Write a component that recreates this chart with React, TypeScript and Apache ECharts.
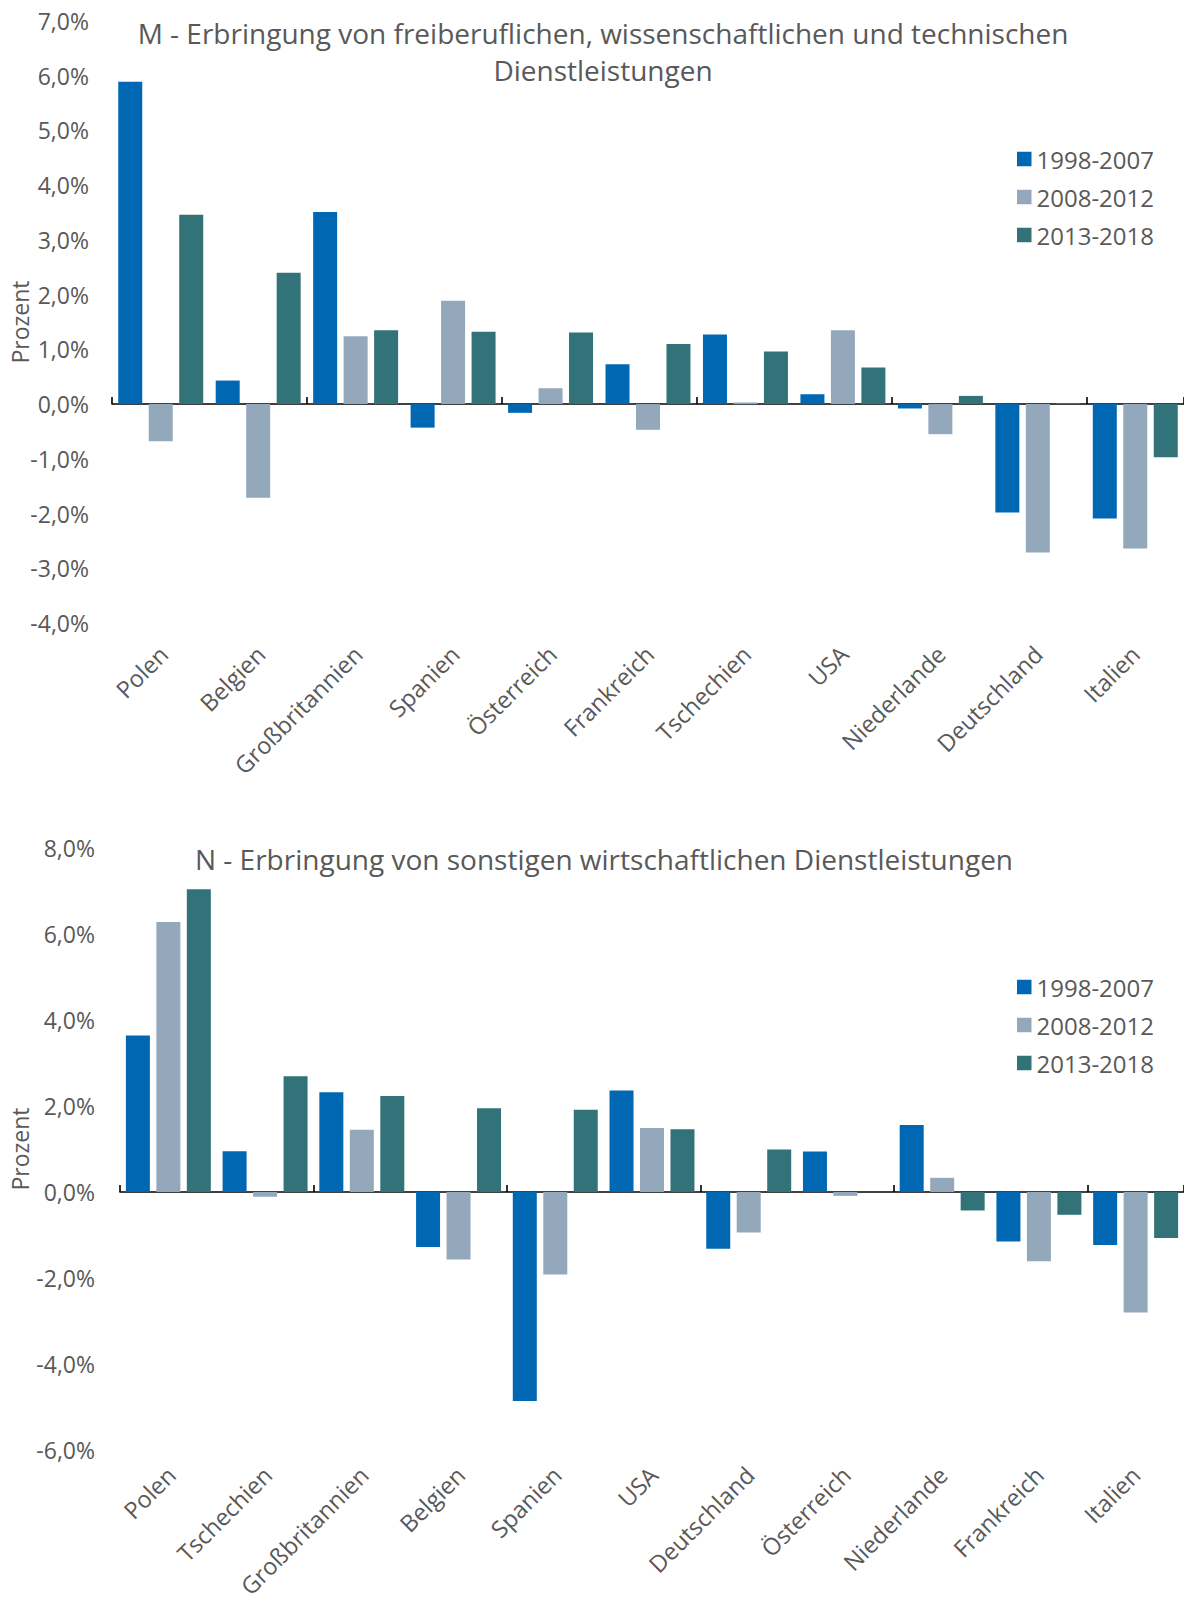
import React, { useEffect, useRef } from 'react';
import * as echarts from 'echarts';

// ---------- data ----------
const seriesNames = ['1998-2007', '2008-2012', '2013-2018'];
const seriesColors = ['#0068B3', '#94A8BC', '#32737A'];

const titleM1 = 'M - Erbringung von freiberuflichen, wissenschaftlichen und technischen';
const titleM2 = 'Dienstleistungen';
const titleN = 'N - Erbringung von sonstigen wirtschaftlichen Dienstleistungen';
const axisName = 'Prozent';

const catsM = ['Polen', 'Belgien', 'Großbritannien', 'Spanien', 'Österreich', 'Frankreich', 'Tschechien', 'USA', 'Niederlande', 'Deutschland', 'Italien'];
const m1998 = [5.89, 0.43, 3.51, -0.43, -0.16, 0.73, 1.27, 0.18, -0.08, -1.98, -2.09];
const m2008 = [-0.68, -1.71, 1.24, 1.89, 0.29, -0.47, 0.03, 1.35, -0.55, -2.71, -2.64];
const m2013 = [3.46, 2.40, 1.35, 1.32, 1.31, 1.10, 0.96, 0.67, 0.15, 0.02, -0.97];

const catsN = ['Polen', 'Tschechien', 'Großbritannien', 'Belgien', 'Spanien', 'USA', 'Deutschland', 'Österreich', 'Niederlande', 'Frankreich', 'Italien'];
const n1998 = [3.64, 0.95, 2.32, -1.28, -4.86, 2.36, -1.32, 0.94, 1.56, -1.15, -1.23];
const n2008 = [6.28, -0.11, 1.45, -1.57, -1.92, 1.49, -0.94, -0.09, 0.33, -1.61, -2.80];
const n2013 = [7.04, 2.69, 2.23, 1.95, 1.91, 1.46, 0.99, 0, -0.43, -0.53, -1.07];

const axisM = { min: -4, max: 7, interval: 1 };
const axisN = { min: -6, max: 8, interval: 2 };

// ---------- styling ----------
const FONT = '"Open Sans", "Noto Sans", sans-serif';
const TXT = '#595959';
const LABEL_DX = 3;

const fmt = (v: number) => v.toFixed(1).replace('.', ',') + '%';

function buildOption() {
  const gridsTop = { top: 21, height: 602 };
  const gridsBot = { top: 848, height: 602 };
  const grid = [
    { left: 112, width: 1072, ...gridsTop },
    { left: 112 + LABEL_DX, width: 1072, ...gridsTop },
    { left: 120, width: 1064, ...gridsBot },
    { left: 120 + LABEL_DX, width: 1064, ...gridsBot },
  ];

  const lineAxis = (gi: number, data: string[]) => ({
    gridIndex: gi,
    type: 'category',
    data,
    axisLine: { show: true, onZero: true, lineStyle: { color: '#000', width: 1.6 } },
    axisTick: { show: true, inside: true, length: 7, lineStyle: { color: '#000', width: 1.6 } },
    axisLabel: { show: false },
    splitLine: { show: false },
  });
  const labelAxis = (gi: number, data: string[]) => ({
    gridIndex: gi,
    type: 'category',
    data,
    position: 'bottom',
    axisLine: { show: false, onZero: false },
    axisTick: { show: false },
    splitLine: { show: false },
    axisLabel: {
      interval: 0,
      rotate: 45,
      margin: 27,
      color: TXT,
      fontSize: 23.5,
      fontFamily: FONT,
    },
  });
  const valueAxis = (gi: number, ax: { min: number; max: number; interval: number }, margin: number) => ({
    gridIndex: gi,
    type: 'value',
    min: ax.min,
    max: ax.max,
    interval: ax.interval,
    axisLine: { show: false },
    axisTick: { show: false },
    splitLine: { show: false },
    axisLabel: { formatter: fmt, margin, color: TXT, fontSize: 23, fontFamily: FONT },
  });
  const hiddenY = (gi: number, ax: { min: number; max: number; interval: number }) => ({
    gridIndex: gi,
    type: 'value',
    show: false,
    min: ax.min,
    max: ax.max,
    interval: ax.interval,
  });

  const mkSeries = (values: number[][], xi: number, yi: number) =>
    values.map((vals, i) => ({
      name: seriesNames[i],
      type: 'bar',
      xAxisIndex: xi,
      yAxisIndex: yi,
      data: vals,
      barWidth: 24,
      barGap: '27%',
      itemStyle: { color: seriesColors[i] },
    }));

  const legend = (top: number) => ({
    data: seriesNames,
    orient: 'vertical',
    left: 1017,
    top,
    padding: 0,
    icon: 'rect',
    itemWidth: 14.5,
    itemHeight: 14.5,
    itemGap: 14,
    selectedMode: false,
    textStyle: { color: TXT, fontSize: 24, fontFamily: FONT, lineHeight: 24 },
  });

  const text = (t: string, x: number, y: number, size: number, rotation = 0) => ({
    type: 'text',
    x,
    y,
    rotation,
    style: {
      text: t,
      fill: TXT,
      font: `${size}px ${FONT}`,
      fontSize: size,
      fontFamily: FONT,
      align: 'center',
      verticalAlign: 'middle',
      textAlign: 'center',
      textVerticalAlign: 'middle',
    },
  });

  return {
    animation: false,
    backgroundColor: '#ffffff',
    grid,
    xAxis: [lineAxis(0, catsM), labelAxis(1, catsM), lineAxis(2, catsN), labelAxis(3, catsN)],
    yAxis: [valueAxis(0, axisM, 23), hiddenY(1, axisM), valueAxis(2, axisN, 25), hiddenY(3, axisN)],
    legend: [legend(147), legend(975)],
    series: [
      ...mkSeries([m1998, m2008, m2013], 0, 0),
      ...mkSeries([n1998, n2008, n2013], 2, 2),
    ],
    graphic: [
      text(titleM1, 603, 33, 28),
      text(titleM2, 603, 70, 28),
      text(titleN, 604, 859, 28),
      text(axisName, 20, 322, 23, Math.PI / 2),
      text(axisName, 20, 1149, 23, Math.PI / 2),
    ],
  };
}

export default function App() {
  const ref = useRef<HTMLDivElement>(null);
  useEffect(() => {
    if (!ref.current) return;
    const chart = echarts.init(ref.current, undefined, { renderer: 'svg' });
    chart.setOption(buildOption() as any);
    return () => chart.dispose();
  }, []);
  return (
    <div
      ref={ref}
      style={{ position: 'absolute', left: 0, top: 0, width: 1184, height: 1601, background: '#fff' }}
    />
  );
}
